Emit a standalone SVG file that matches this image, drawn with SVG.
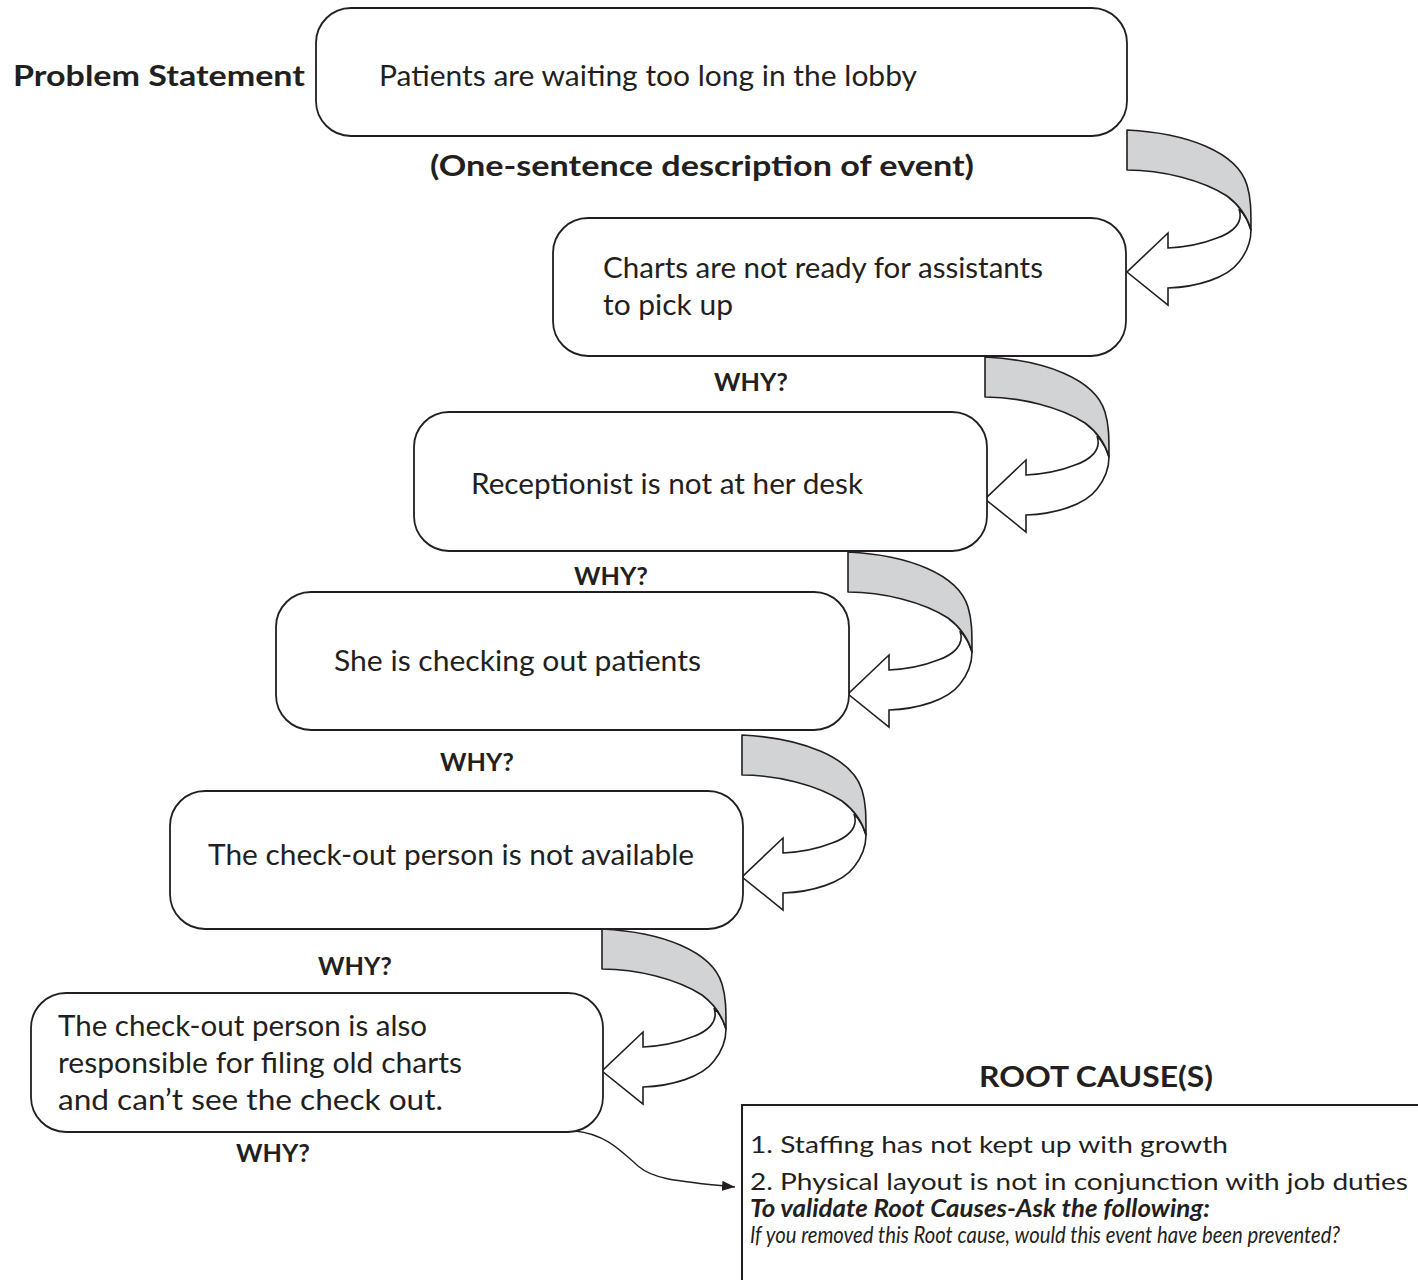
<svg xmlns="http://www.w3.org/2000/svg" xmlns:xlink="http://www.w3.org/1999/xlink" width="1418" height="1280" viewBox="0 0 1418 1280">
<style>
.box{fill:#fff;stroke:#231f20;stroke-width:1.8}
.t{font-family:Lato,"Noto Sans","Liberation Sans",sans-serif;font-size:29px;fill:#231f20}
.b{font-weight:bold}
.why{font-family:Lato,"Noto Sans","Liberation Sans",sans-serif;font-size:25px;font-weight:bold;fill:#231f20;text-anchor:middle}
.rc{font-family:Lato,"Noto Sans","Liberation Sans",sans-serif;font-size:24px;fill:#231f20}
.band{fill:#d1d3d4;stroke:#231f20;stroke-width:1.6;stroke-linejoin:round}
.head{fill:#fff;stroke:#231f20;stroke-width:1.6;stroke-linejoin:miter}
.conn{fill:none;stroke:#231f20;stroke-width:1.3}
</style>
<defs>
<g id="curl">
<path class="head" d="M124,100 C121,90 117,84 112,79 C117,93 105,103 90,108 C75,114 60,117 41,118 L41,103 L0,142 L41,175 L41,158 C70,157 100,148 112,132 C120,122 124,112 124,100 Z"/>
<path class="band" d="M0,0 C60,3 110,22 120,55 C124,68 124,80 124,100 C120,86 112,75 100,66 C75,50 35,40 0,40 Z"/>
</g>
<marker id="arr" markerUnits="userSpaceOnUse" markerWidth="14" markerHeight="10" refX="13" refY="5" orient="auto">
<path d="M0,0 L13,5 L0,10 Z" fill="#231f20"/>
</marker>
</defs>

<text class="t b" x="13" y="86" textLength="292" lengthAdjust="spacingAndGlyphs">Problem Statement</text>

<g id="connectors">
<use xlink:href="#curl" x="1127" y="130"/>
<use xlink:href="#curl" x="985" y="357"/>
<use xlink:href="#curl" x="848" y="552"/>
<use xlink:href="#curl" x="742" y="735"/>
<use xlink:href="#curl" x="602" y="929"/>
<path class="conn" d="M575,1131 C605,1134 620,1150 638,1166 C652,1178 670,1181 735,1187" marker-end="url(#arr)"/>
</g>

<g id="n1">
<rect class="box" x="316" y="8" width="811" height="128" rx="35"/>
<text class="t" x="379" y="86" textLength="538" lengthAdjust="spacingAndGlyphs">Patients are waiting too long in the lobby</text>
</g>
<text class="t b" x="430" y="176" textLength="544" lengthAdjust="spacingAndGlyphs">(One-sentence description of event)</text>

<g id="n2">
<rect class="box" x="553" y="218" width="573" height="138" rx="35"/>
<text class="t" x="603" y="278" textLength="440" lengthAdjust="spacingAndGlyphs">Charts are not ready for assistants</text>
<text class="t" x="603" y="315" textLength="130" lengthAdjust="spacingAndGlyphs">to pick up</text>
</g>
<text class="why" x="751" y="391" textLength="74" lengthAdjust="spacingAndGlyphs">WHY?</text>

<g id="n3">
<rect class="box" x="414" y="412" width="573" height="139" rx="35"/>
<text class="t" x="471" y="494" textLength="392" lengthAdjust="spacingAndGlyphs">Receptionist is not at her desk</text>
</g>
<text class="why" x="611" y="585" textLength="74" lengthAdjust="spacingAndGlyphs">WHY?</text>

<g id="n4">
<rect class="box" x="276" y="592" width="573" height="138" rx="35"/>
<text class="t" x="334" y="671" textLength="367" lengthAdjust="spacingAndGlyphs">She is checking out patients</text>
</g>
<text class="why" x="477" y="771" textLength="74" lengthAdjust="spacingAndGlyphs">WHY?</text>

<g id="n5">
<rect class="box" x="170" y="791" width="573" height="138" rx="35"/>
<text class="t" x="208" y="865" textLength="486" lengthAdjust="spacingAndGlyphs">The check-out person is not available</text>
</g>
<text class="why" x="355" y="975" textLength="74" lengthAdjust="spacingAndGlyphs">WHY?</text>

<g id="n6">
<rect class="box" x="31" y="993" width="572" height="139" rx="35"/>
<text class="t" x="58" y="1036" textLength="369" lengthAdjust="spacingAndGlyphs">The check-out person is also</text>
<text class="t" x="58" y="1073" textLength="404" lengthAdjust="spacingAndGlyphs">responsible for filing old charts</text>
<text class="t" x="58" y="1110" textLength="385" lengthAdjust="spacingAndGlyphs">and can’t see the check out.</text>
</g>
<text class="why" x="273" y="1162" textLength="74" lengthAdjust="spacingAndGlyphs">WHY?</text>

<text class="t b" x="979" y="1087" textLength="234" lengthAdjust="spacingAndGlyphs">ROOT CAUSE(S)</text>
<g id="root">
<path d="M1418,1105 H742 V1280" fill="none" stroke="#231f20" stroke-width="2"/>
<text class="rc" x="750" y="1153" textLength="478" lengthAdjust="spacingAndGlyphs">1. Staffing has not kept up with growth</text>
<text class="rc" x="750" y="1190" textLength="658" lengthAdjust="spacingAndGlyphs">2. Physical layout is not in conjunction with job duties</text>
<text class="rc" x="750" y="1217" font-size="20" font-weight="bold" font-style="italic" textLength="460" lengthAdjust="spacingAndGlyphs">To validate Root Causes-Ask the following:</text>
<text class="rc" x="750" y="1243" font-size="15.5" font-style="italic" textLength="590" lengthAdjust="spacingAndGlyphs">If you removed this Root cause, would this event have been prevented?</text>
</g>
</svg>
